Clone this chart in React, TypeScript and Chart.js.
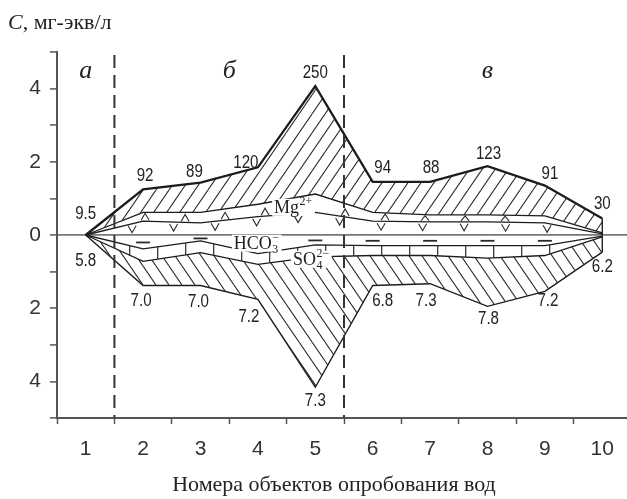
import React, { useEffect, useRef } from 'react';
import { Chart, registerables } from 'chart.js';

Chart.register(...registerables);

// ---- data (mg-eq/L) ----
const sampleNumbers = ['1', '2', '3', '4', '5', '6', '7', '8', '9', '10'];
// cations (upward)
const totalCations = [0, 1.25, 1.43, 1.85, 4.07, 1.45, 1.45, 1.88, 1.35, 0.45];
const calciumMagnesium = [0, 0.62, 0.62, 0.84, 1.12, 0.62, 0.55, 0.55, 0.52, 0.06];
const calcium = [0, 0.38, 0.33, 0.5, 0.62, 0.38, 0.36, 0.36, 0.33, 0.03];
// anions (downward)
const bicarbonate = [0, -0.38, -0.16, -0.51, -0.27, -0.29, -0.29, -0.29, -0.29, -0.03];
const bicarbonateSulfate = [0, -0.72, -0.48, -0.8, -0.6, -0.56, -0.56, -0.63, -0.56, -0.05];
const totalAnions = [0, -1.38, -1.38, -1.76, -4.16, -1.38, -1.33, -1.95, -1.54, -0.47];
// point annotations
const mineralizationLabels = ['9.5', '92', '89', '120', '250', '94', '88', '123', '91', '30'];
const phLabels = ['5.8', '7.0', '7.0', '7.2', '7.3', '6.8', '7.3', '7.8', '7.2', '6.2'];
// zones (boundaries in sample-index units)
const zoneNames = ['а', 'б', 'в'];
const zoneBounds = [0.5, 4.5];
const yMin = -5;
const yMax = 5;

// ---- style ----
const SANS = '"Liberation Sans Narrow", "Liberation Sans", Arial, sans-serif';
const SERIF = '"Liberation Serif", "Times New Roman", serif';
const INK = '#222';
const AXIS = '#555';
const aboveOffset = [[0, -21], [2, -13], [-6, -11], [-12, -5], [0, -13], [10, -14], [1, -14], [1, -12], [5, -12], [0, -15]];
const belowOffset = [[0, 26], [-2, 15], [-2, 16], [-9, 17], [0, 14], [10, 15], [-4, 17], [1, 12], [3, 9], [0, 15]];

function makeHatch(dir: number) {
  const w = 13;
  const h = 19;
  const c = document.createElement('canvas');
  c.width = w;
  c.height = h;
  const g = c.getContext('2d')!;
  g.strokeStyle = '#2b2b2b';
  g.lineWidth = 1.1;
  g.beginPath();
  for (let k = -1; k <= 1; k++) {
    if (dir > 0) {
      g.moveTo(k * w, h);
      g.lineTo(k * w + w, 0);
    } else {
      g.moveTo(k * w, 0);
      g.lineTo(k * w + w, h);
    }
  }
  g.stroke();
  return g.createPattern(c, 'repeat')!;
}

function narrowText(ctx: CanvasRenderingContext2D, t: string, x: number, y: number) {
  ctx.save();
  ctx.translate(x, y);
  ctx.scale(0.84, 1.05);
  ctx.fillText(t, 0, 0);
  ctx.restore();
}

function chemLabel(ctx: CanvasRenderingContext2D, base: string, sub: string, sup: string, cx: number, cy: number) {
  const big = `18px ${SERIF}`;
  const small = `12px ${SERIF}`;
  ctx.font = big;
  const wb = ctx.measureText(base).width;
  ctx.font = small;
  const ws = Math.max(sub ? ctx.measureText(sub).width : 0, sup ? ctx.measureText(sup).width : 0);
  const total = wb + ws + 1;
  const left = cx - total / 2;
  ctx.fillStyle = '#fff';
  ctx.fillRect(left - 2, cy - 8, total + 4, 17);
  ctx.fillStyle = INK;
  ctx.textAlign = 'left';
  ctx.textBaseline = 'alphabetic';
  ctx.font = big;
  ctx.fillText(base, left, cy + 6);
  ctx.font = small;
  if (sub) ctx.fillText(sub, left + wb + 0.5, cy + 10);
  if (sup) ctx.fillText(sup, left + wb + 0.5, cy - 2);
}

const overlay = {
  id: 'overlay',
  afterDatasetsDraw(chart: any) {
    const { ctx, chartArea: ca, scales } = chart;
    const xs = scales.x;
    const ys = scales.y;
    const pts = (i: number) => chart.getDatasetMeta(i).data as any[];
    const yAt = (i: number, px: number) => {
      const p = pts(i);
      for (let k = 0; k < p.length - 1; k++) {
        const a = p[k];
        const b = p[k + 1];
        if (px >= a.x && px <= b.x) {
          const t = (px - a.x) / (b.x - a.x);
          return a.y + t * (b.y - a.y);
        }
      }
      return p[p.length - 1].y;
    };
    const xp = (i: number) => xs.getPixelForValue(i);
    const y0 = ys.getPixelForValue(0);
    const last = sampleNumbers.length - 1;

    ctx.save();
    ctx.lineCap = 'butt';
    ctx.strokeStyle = '#2a2a2a';
    ctx.lineWidth = 1.1;
    // Mg2+ band markers (^)
    for (let px = xp(1) + 2; px <= xp(last - 1) - 15; px += 40) {
      const lo = yAt(2, px);
      const hi = yAt(1, px);
      const base = lo - 1;
      const top = Math.max(hi + 1, base - 7);
      ctx.beginPath();
      ctx.moveTo(px - 4, base);
      ctx.lineTo(px, top);
      ctx.lineTo(px + 4, base);
      ctx.stroke();
    }
    // Ca2+ band markers (v)
    for (let px = xp(1) - 11; px <= xp(last - 1) + 4; px += 41.5) {
      const top = yAt(2, px) + 2;
      const bot = Math.min(y0 - 2, top + 7);
      ctx.beginPath();
      ctx.moveTo(px - 4, top);
      ctx.lineTo(px, bot);
      ctx.lineTo(px + 4, top);
      ctx.stroke();
    }
    // HCO3 band dashes
    ctx.lineWidth = 1.8;
    for (let i = 1; i < last; i++) {
      const px = xp(i);
      const yy = (y0 + yAt(3, px)) / 2 + 0.5;
      ctx.beginPath();
      ctx.moveTo(px - 7, yy);
      ctx.lineTo(px + 7, yy);
      ctx.stroke();
    }
    // SO4 band bricks
    ctx.lineWidth = 1.2;
    for (let px = xp(0) + 44; px <= xp(last - 1) + 6; px += 28) {
      ctx.beginPath();
      ctx.moveTo(px, yAt(3, px));
      ctx.lineTo(px, yAt(4, px));
      ctx.stroke();
    }
    // closing edge at last sample
    ctx.strokeStyle = INK;
    ctx.lineWidth = 1.4;
    ctx.beginPath();
    ctx.moveTo(xp(last), pts(0)[last].y);
    ctx.lineTo(xp(last), pts(5)[last].y);
    ctx.stroke();

    // zone dividers
    ctx.strokeStyle = '#333';
    ctx.lineWidth = 2;
    ctx.setLineDash([13, 7]);
    zoneBounds.forEach((b) => {
      const x = xs.getPixelForValue(b);
      ctx.beginPath();
      ctx.moveTo(x, ca.top + 3);
      ctx.lineTo(x, ca.bottom);
      ctx.stroke();
    });
    ctx.setLineDash([]);

    // zone names
    const edges = [xs.min - 0.5, ...zoneBounds, xs.max + 0.5];
    ctx.fillStyle = INK;
    ctx.font = `italic 26px ${SERIF}`;
    ctx.textAlign = 'center';
    ctx.textBaseline = 'middle';
    zoneNames.forEach((n, i) => {
      const cx = xs.getPixelForValue((edges[i] + edges[i + 1]) / 2);
      ctx.fillText(n, cx, ca.top + 19);
    });

    // data labels
    ctx.font = `18px ${SANS}`;
    mineralizationLabels.forEach((t, i) => {
      const p = pts(0)[i];
      narrowText(ctx, t, p.x + aboveOffset[i][0], p.y + aboveOffset[i][1]);
    });
    phLabels.forEach((t, i) => {
      const p = pts(5)[i];
      narrowText(ctx, t, p.x + belowOffset[i][0], p.y + belowOffset[i][1]);
    });

    // ion labels
    chemLabel(ctx, 'Mg', '', '2+', xs.getPixelForValue(3.62), ys.getPixelForValue(0.77));
    chemLabel(ctx, 'HCO', '3', '−', xs.getPixelForValue(2.98), ys.getPixelForValue(-0.21));
    chemLabel(ctx, 'SO', '4', '2−', xs.getPixelForValue(3.93), ys.getPixelForValue(-0.65));

    // axis titles
    ctx.fillStyle = INK;
    ctx.textAlign = 'left';
    ctx.textBaseline = 'middle';
    ctx.font = `italic 22px ${SERIF}`;
    ctx.fillText('C', 8, 23);
    const wc = ctx.measureText('C').width;
    ctx.font = `22px ${SERIF}`;
    ctx.fillText(', мг-экв/л', 8 + wc, 23);
    ctx.textAlign = 'center';
    ctx.font = `22px ${SERIF}`;
    ctx.fillText('Номера объектов опробования вод', 334, 485);
    ctx.restore();
  },
};

export default function App() {
  const ref = useRef<HTMLCanvasElement>(null);
  useEffect(() => {
    const canvas = ref.current!;
    const up = makeHatch(1);
    const down = makeHatch(-1);
    const line = (data: number[], width: number, extra: any = {}) => ({
      data,
      borderColor: '#1c1c1c',
      borderWidth: width,
      pointRadius: 0,
      tension: 0,
      fill: false,
      ...extra,
    });
    const chart = new Chart(canvas, {
      type: 'line',
      data: {
        labels: sampleNumbers,
        datasets: [
          line(totalCations, 2.3, { fill: '+1', backgroundColor: up }),
          line(calciumMagnesium, 1.3),
          line(calcium, 1.3),
          line(bicarbonate, 1.3),
          line(bicarbonateSulfate, 1.3, { fill: '+1', backgroundColor: down }),
          line(totalAnions, 1.4),
        ] as any,
      },
      options: {
        responsive: false,
        animation: false,
        devicePixelRatio: 1,
        layout: { padding: { left: 0, right: 0, top: 52, bottom: 0 } },
        plugins: { legend: { display: false }, tooltip: { enabled: false } },
        scales: {
          x: {
            type: 'category',
            offset: true,
            grid: { offset: true, drawOnChartArea: false, tickLength: 6, tickColor: AXIS, tickWidth: 1.5 } as any,
            border: { color: AXIS, width: 2 },
            ticks: { color: '#333', font: { family: SANS, size: 21 }, padding: 13, maxRotation: 0, autoSkip: false },
            afterFit: (s: any) => {
              s.height = 81;
            },
          },
          y: {
            min: yMin,
            max: yMax,
            ticks: {
              stepSize: 1,
              autoSkip: false,
              color: '#333',
              font: { family: SANS, size: 21 },
              padding: 9,
              callback: (v: any) => (Number(v) % 2 === 0 ? String(Math.abs(Number(v))) : ''),
            },
            grid: {
              color: (c: any) => (c.tick && c.tick.value === 0 ? '#777' : 'rgba(0,0,0,0)'),
              lineWidth: 1.8,
              tickLength: 7,
              tickColor: AXIS,
              tickWidth: 1.5,
            } as any,
            border: { color: AXIS, width: 2 },
            afterFit: (s: any) => {
              s.width = 57;
            },
          },
        },
      } as any,
      plugins: [overlay],
    });
    return () => chart.destroy();
  }, []);

  return (
    <div style={{ position: 'fixed', left: 0, top: 0, width: 627, height: 499, overflow: 'hidden', background: '#fff' }}>
      <canvas ref={ref} width={631} height={499} style={{ display: 'block', width: 631, height: 499 }} />
    </div>
  );
}
